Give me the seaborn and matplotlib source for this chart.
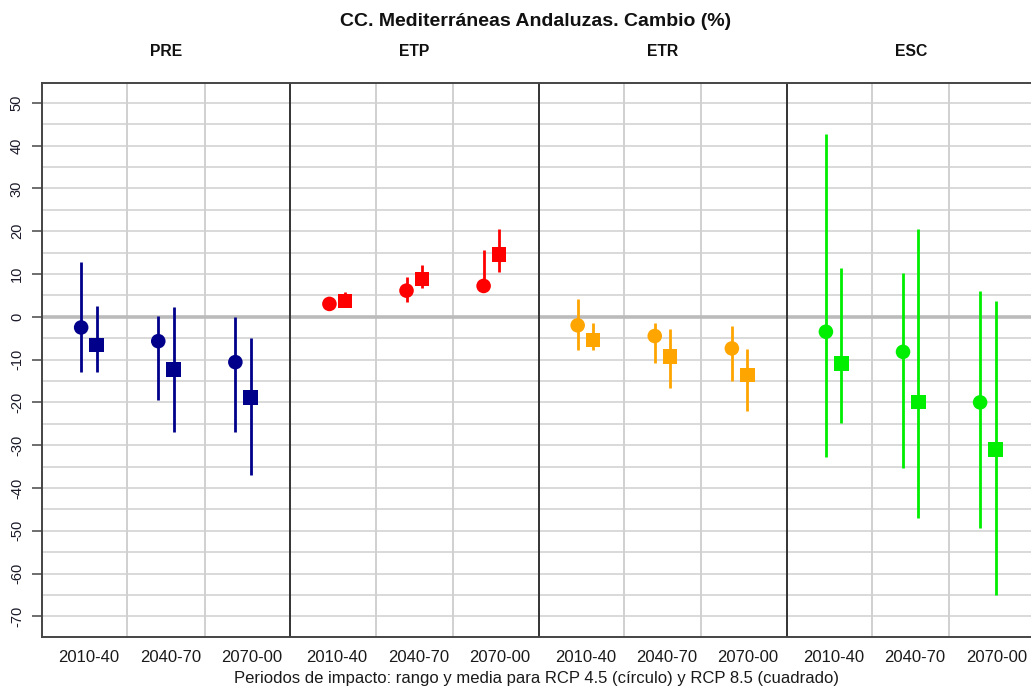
import numpy as np
import pandas as pd
import matplotlib
matplotlib.use("Agg")
import matplotlib.pyplot as plt
import matplotlib.transforms as mtransforms
import seaborn as sns

# ---------------- data ----------------
variables = ["PRE", "ETP", "ETR", "ESC"]
periods = ["2010-40", "2040-70", "2070-00"]
var_colors = ["#00008B", "#FF0000", "#FFA500", "#00EE00"]
y_ticks = [-70, -60, -50, -40, -30, -20, -10, 0, 10, 20, 30, 40, 50]

# RCP 4.5 (circle): mean, min, max per period
pre_45_mean = [-2.5, -5.7, -10.6]
pre_45_low = [-13.0, -19.5, -26.9]
pre_45_high = [12.9, 0.2, 0.0]
etp_45_mean = [3.0, 6.1, 7.2]
etp_45_low = [2.0, 3.4, 5.7]
etp_45_high = [4.5, 9.3, 15.6]
etr_45_mean = [-2.0, -4.5, -7.4]
etr_45_low = [-7.8, -10.9, -15.0]
etr_45_high = [4.1, -1.4, -2.1]
esc_45_mean = [-3.5, -8.2, -20.0]
esc_45_low = [-32.7, -35.4, -49.3]
esc_45_high = [42.6, 10.3, 6.0]

# RCP 8.5 (square)
pre_85_mean = [-6.6, -12.3, -18.8]
pre_85_low = [-13.0, -26.9, -37.0]
pre_85_high = [2.6, 2.3, -5.0]
etp_85_mean = [3.7, 8.8, 14.6]
etp_85_low = [2.3, 6.8, 10.5]
etp_85_high = [5.7, 12.2, 20.5]
etr_85_mean = [-5.4, -9.3, -13.6]
etr_85_low = [-7.8, -16.6, -22.0]
etr_85_high = [-1.4, -2.9, -7.6]
esc_85_mean = [-10.9, -19.9, -31.0]
esc_85_low = [-24.7, -47.1, -64.9]
esc_85_high = [11.4, 20.5, 3.7]

series = {
    ("PRE", "RCP 4.5"): (pre_45_mean, pre_45_low, pre_45_high),
    ("ETP", "RCP 4.5"): (etp_45_mean, etp_45_low, etp_45_high),
    ("ETR", "RCP 4.5"): (etr_45_mean, etr_45_low, etr_45_high),
    ("ESC", "RCP 4.5"): (esc_45_mean, esc_45_low, esc_45_high),
    ("PRE", "RCP 8.5"): (pre_85_mean, pre_85_low, pre_85_high),
    ("ETP", "RCP 8.5"): (etp_85_mean, etp_85_low, etp_85_high),
    ("ETR", "RCP 8.5"): (etr_85_mean, etr_85_low, etr_85_high),
    ("ESC", "RCP 8.5"): (esc_85_mean, esc_85_low, esc_85_high),
}

# ---------------- layout helpers ----------------
GROUP_W = 3.22      # width of one variable panel (period spacing = 1)
FIRST_C = 0.608     # first period centre inside a panel
DODGE = 0.10        # circle / square offset

rows = []
for (var, scen), (m, lo, hi) in series.items():
    g = variables.index(var)
    for p, per in enumerate(periods):
        xc = g * GROUP_W + FIRST_C + p
        x = xc - DODGE if scen == "RCP 4.5" else xc + DODGE
        rows.append(dict(variable=var, scenario=scen, period=per, x=x,
                         mean=m[p], low=lo[p], high=hi[p]))
df = pd.DataFrame(rows)

# ---------------- figure ----------------
sns.set_theme(style="white")
plt.rcParams["font.family"] = ["Liberation Sans", "DejaVu Sans"]

W, H = 1031, 688
fig = plt.figure(figsize=(W / 100, H / 100), dpi=100)
left_px, right_px, top_px, bot_px = 42, 1035, 83, 637
ax = fig.add_axes([left_px / W, 1 - bot_px / H,
                   (right_px - left_px) / W, (bot_px - top_px) / H])

ax.set_xlim(0, 4 * GROUP_W)
ax.set_ylim(-74.8, 54.6)

# horizontal grid every 5
for yv in np.arange(-70, 55, 5):
    if yv == 0:
        continue
    ax.axhline(yv, color="#D9D9D9", lw=1.4, zorder=0)
ax.axhline(0, color="#BBBBBB", lw=2.6, zorder=0.5)

# vertical light lines between periods and dark separators between panels
for g in range(4):
    for k in (0.5, 1.5):
        ax.axvline(g * GROUP_W + FIRST_C + k, color="#D0D0D0", lw=1.4, zorder=0)
    if g > 0:
        ax.axvline(g * GROUP_W, color="#333333", lw=1.4, zorder=0.6)

# range lines
for _, r in df.iterrows():
    col = var_colors[variables.index(r["variable"])]
    ax.vlines(r["x"], r["low"], r["high"], color=col, lw=2.0, zorder=2)

# mean markers via seaborn
sns.scatterplot(data=df, x="x", y="mean", hue="variable", palette=var_colors,
                hue_order=variables, style="scenario",
                markers={"RCP 4.5": "o", "RCP 8.5": "s"},
                s=110, linewidth=0, legend=False, ax=ax, zorder=3)

# axes styling
for side in ("left", "top", "bottom"):
    ax.spines[side].set_color("#444444")
    ax.spines[side].set_linewidth(1.4)
ax.spines["right"].set_visible(False)

ax.set_yticks(y_ticks)
ax.set_yticklabels([str(v) for v in y_ticks], rotation=90, va="center",
                   fontsize=10.5, color="#1a1a2a")
ax.tick_params(axis="y", left=True, length=7, width=1.2, color="#555555", pad=6)

tick_pos, tick_lab = [], []
for g in range(4):
    for p, per in enumerate(periods):
        tick_pos.append(g * GROUP_W + FIRST_C + p * 1.055)
        tick_lab.append(per)
ax.set_xticks(tick_pos)
ax.set_xticklabels(tick_lab, fontsize=12, color="#1a1a1a")
ax.tick_params(axis="x", bottom=False, length=0, pad=9)
ax.set_xlabel("")
ax.set_ylabel("")

# panel labels
trans = mtransforms.blended_transform_factory(ax.transData, fig.transFigure)
for g, var in enumerate(variables):
    ax.text(g * GROUP_W + GROUP_W / 2, 1 - 51 / H, var, transform=trans,
            ha="center", va="center", fontsize=11.3, fontweight="bold", color="#111111")

fig.text(536 / W, 1 - 22 / H, "CC. Mediterráneas Andaluzas. Cambio (%)",
         ha="center", va="center", fontsize=14, fontweight="bold", color="#111111")
fig.text(536 / W, 1 - 679 / H,
         "Periodos de impacto: rango y media para RCP 4.5 (círculo) y RCP 8.5 (cuadrado)",
         ha="center", va="center", fontsize=12, color="#1a1a1a")

fig.savefig("out.png", dpi=100)
